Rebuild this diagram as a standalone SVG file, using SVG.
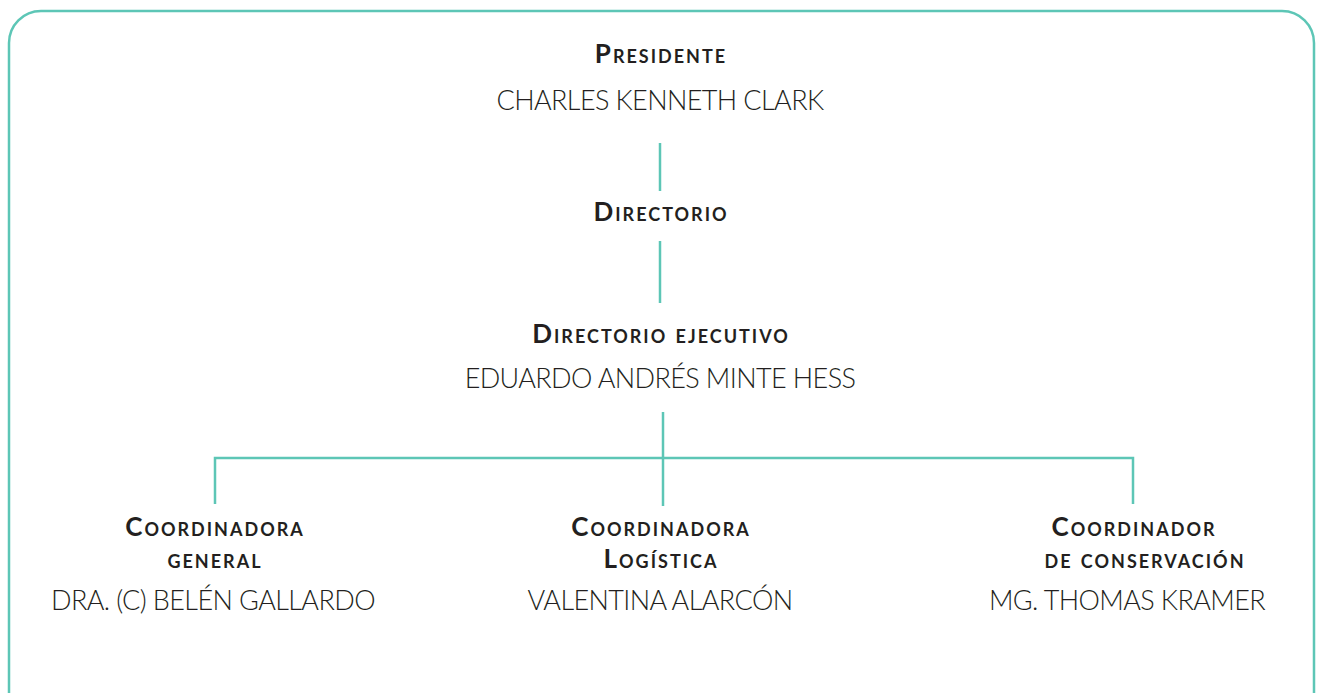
<svg xmlns="http://www.w3.org/2000/svg" width="1324" height="693" viewBox="0 0 1324 693">
<style>
.t{font-family:Lato,"Liberation Sans",sans-serif;font-weight:700;font-variant:small-caps;font-size:26px;fill:#231f20;text-anchor:middle;letter-spacing:2px}
.n{font-family:Lato,"Liberation Sans",sans-serif;font-weight:300;font-size:27px;fill:#231f20;text-anchor:middle;letter-spacing:-0.6px}
.c{stroke:#5dc6b6;stroke-width:2.5;fill:none}
</style>
<rect x="9" y="11" width="1305" height="720" rx="32" ry="32" fill="#fff" stroke="#5dc6b6" stroke-width="2.5"/>
<g id="connectors" class="c">
<line x1="660" y1="143" x2="660" y2="191"/>
<line x1="660" y1="241" x2="660" y2="303"/>
<line x1="663" y1="412" x2="663" y2="506"/>
<path d="M215 504V458H1133V504"/>
</g>
<g id="presidente"><text class="t" x="661" y="63">Presidente</text><text class="n" x="660" y="110">CHARLES KENNETH CLARK</text></g>
<g id="directorio"><text class="t" x="661" y="221">Directorio</text></g>
<g id="ejecutivo"><text class="t" x="661" y="343">Directorio ejecutivo</text><text class="n" x="660" y="388">EDUARDO ANDRÉS MINTE HESS</text></g>
<g id="general"><text class="t" x="215" y="536">Coordinadora</text><text class="t" x="215" y="568">general</text><text class="n" x="213" y="610">DRA. (C) BELÉN GALLARDO</text></g>
<g id="logistica"><text class="t" x="661" y="536">Coordinadora</text><text class="t" x="661" y="568">Logística</text><text class="n" x="660" y="610">VALENTINA ALARCÓN</text></g>
<g id="conservacion"><text class="t" x="1134" y="536">Coordinador</text><text class="t" x="1145" y="568">de conservación</text><text class="n" x="1127" y="610">MG. THOMAS KRAMER</text></g>
</svg>
